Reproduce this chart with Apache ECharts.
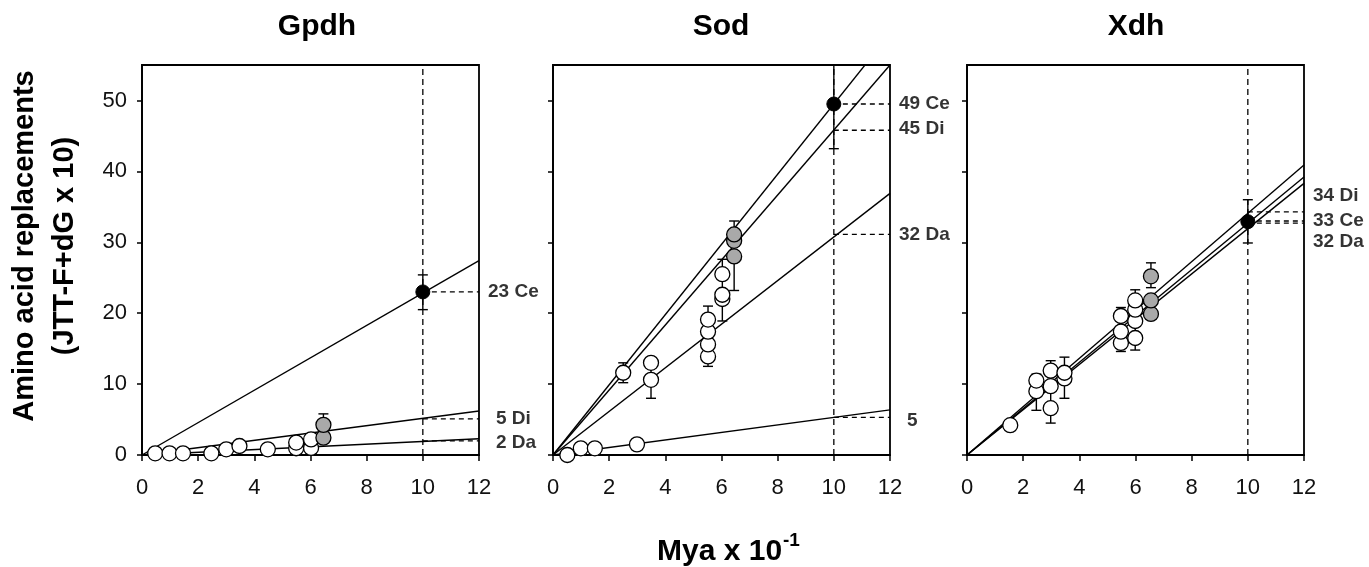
<!DOCTYPE html>
<html><head><meta charset="utf-8">
<script src="https://cdn.jsdelivr.net/npm/echarts@6/dist/echarts.min.js"></script>
<style>html,body{margin:0;padding:0;background:#fff}#c{width:1369px;height:567px}</style>
</head><body><div id="c"></div>
<script>
// ---------- data ----------
const panelTitles = ['Gpdh', 'Sod', 'Xdh'];
const xTicks = [0, 2, 4, 6, 8, 10, 12];
const yTicks = [0, 10, 20, 30, 40, 50];
const calibrationX = 10;

// regression lines through the origin: value reached at x = 12
const gpdhLineEnds = [27.4, 6.2, 2.3];
const sodLineEnds = [59.4, 55.0, 36.9, 6.36];
const xdhLineEnds = [40.9, 39.2, 38.3];

// dashed readouts at x = 10
const gpdhReadouts = [23.0, 5.1, 2.0];
const sodReadouts = [49.5, 45.8, 31.1, 5.3];
const xdhReadouts = [34.3, 33.0, 32.7];

// readout labels and the height where each is written
const gpdhLabels = ['23 Ce', '5 Di', '2 Da'];
const sodLabels = ['49 Ce', '45 Di', '32 Da', '5'];
const xdhLabels = ['34 Di', '33 Ce', '32 Da'];
const gpdhLabelY = [23.0, 5.1, 1.7];
const sodLabelY = [49.5, 46.0, 31.1, 4.8];
const xdhLabelY = [36.6, 33.0, 30.1];

// open circles [x, y]
const gpdhOpen = [[0.47,0.24],[0.98,0.24],[1.46,0.24],[2.47,0.24],[3.0,0.8],[3.47,1.27],[4.48,0.8],[5.49,0.95],[5.49,1.75],[6.02,1.0],[6.02,2.2]];
const sodOpen = [[0.51,0],[0.99,0.94],[1.49,0.94],[2.99,1.5],[2.5,11.6],[3.49,10.6],[3.49,13.0],[5.52,13.9],[5.52,15.6],[5.52,17.4],[5.52,19.1],[6.03,22.0],[6.03,22.6],[6.03,25.5]];
const xdhOpen = [[1.54,4.2],[2.47,9.0],[2.47,10.5],[2.98,6.6],[2.98,9.7],[2.98,11.9],[3.47,10.8],[3.47,11.6],[5.48,15.8],[5.48,17.4],[5.48,19.6],[5.99,16.5],[5.99,18.9],[5.99,20.5],[5.99,21.8]];

// grey circles [x, y]
const gpdhGray = [[6.46,2.45],[6.46,4.25]];
const sodGray = [[6.45,28.0],[6.45,30.2],[6.45,31.1]];
const xdhGray = [[6.55,19.9],[6.55,21.8],[6.55,25.2]];

// black calibration point [x, y]
const gpdhBlack = [[10,23.0]];
const sodBlack = [[10,49.5]];
const xdhBlack = [[10,32.9]];

// error bars [x, low, high]
const gpdhErr = [[6.46,2.7,5.8],[10,20.5,25.4]];
const sodErr = [[2.5,10.2,13.0],[3.49,8.0,13.2],[5.52,12.5,21.0],[6.03,18.9,27.6],[6.45,23.2,33.0],[10,43.2,56.0]];
const xdhErr = [[2.47,6.3,11.4],[2.98,4.5,13.3],[3.47,8.0,13.8],[5.48,14.6,20.8],[5.99,14.8,23.3],[6.55,23.6,27.1],[10,29.9,36.0]];

// ---------- chart ----------
const FONT = 'Liberation Sans, Arial, Helvetica, sans-serif';
const panels = [
  {ends: gpdhLineEnds, reads: gpdhReadouts, labels: gpdhLabels, labelY: gpdhLabelY, open: gpdhOpen, gray: gpdhGray, black: gpdhBlack, err: gpdhErr},
  {ends: sodLineEnds, reads: sodReadouts, labels: sodLabels, labelY: sodLabelY, open: sodOpen, gray: sodGray, black: sodBlack, err: sodErr},
  {ends: xdhLineEnds, reads: xdhReadouts, labels: xdhLabels, labelY: xdhLabelY, open: xdhOpen, gray: xdhGray, black: xdhBlack, err: xdhErr}
];
const gridLefts = [142, 553, 967];
const gridWidth = 337;
const titleCenters = [317, 721, 1136];

const grids = [], xAxes = [], yAxes = [], series = [];
const xMax = xTicks[xTicks.length - 1];
const yMax = 55;

function renderErr(params, api) {
  const x = api.value(0), lo = api.value(1), hi = api.value(2);
  const a = api.coord([x, lo]), b = api.coord([x, hi]);
  const w = 5;
  const st = {stroke: '#000', lineWidth: 1.4, fill: null};
  return {type: 'group', children: [
    {type: 'line', shape: {x1: a[0], y1: a[1], x2: b[0], y2: b[1]}, style: st},
    {type: 'line', shape: {x1: a[0]-w, y1: a[1], x2: a[0]+w, y2: a[1]}, style: st},
    {type: 'line', shape: {x1: b[0]-w, y1: b[1], x2: b[0]+w, y2: b[1]}, style: st}
  ]};
}

panels.forEach((p, i) => {
  grids.push({left: gridLefts[i], top: 65, width: gridWidth, height: 390, show: true, borderColor: '#000', borderWidth: 1.8, backgroundColor: 'transparent'});
  xAxes.push({gridIndex: i, type: 'value', min: 0, max: xMax, interval: 2,
    axisLine: {show: true, onZero: false, lineStyle: {color: '#000', width: 1.8}},
    axisTick: {show: true, inside: false, length: 6, lineStyle: {color: '#000', width: 1.5}},
    axisLabel: {fontSize: 22, color: '#111', margin: 22, fontFamily: FONT},
    splitLine: {show: false}});
  yAxes.push({gridIndex: i, type: 'value', min: 0, max: yMax,
    axisLine: {show: true, onZero: false, lineStyle: {color: '#000', width: 1.8}},
    axisTick: {show: true, inside: false, length: 5, customValues: yTicks, lineStyle: {color: '#000', width: 1.5}},
    axisLabel: {show: i === 0, customValues: yTicks, fontSize: 22, color: '#111', margin: 15, fontFamily: FONT},
    splitLine: {show: false}});
  const ax = {xAxisIndex: i, yAxisIndex: i};
  p.ends.forEach(e => series.push(Object.assign({type: 'line', data: [[0,0],[xMax,e]], symbol: 'none', silent: true, clip: true, z: 2,
    lineStyle: {color: '#000', width: 1.4}}, ax)));
  series.push(Object.assign({type: 'line', data: [[calibrationX,0],[calibrationX,yMax]], symbol: 'none', silent: true, z: 1,
    lineStyle: {color: '#000', width: 1.3, type: [6,4]}}, ax));
  p.reads.forEach(r => series.push(Object.assign({type: 'line', data: [[calibrationX,r],[xMax,r]], symbol: 'none', silent: true, z: 1,
    lineStyle: {color: '#000', width: 1.3, type: [5,4]}}, ax)));
  series.push(Object.assign({type: 'custom', renderItem: renderErr, data: p.err, encode: {x: 0, y: [1,2]}, clip: true, z: 3, silent: true}, ax));
  series.push(Object.assign({type: 'scatter', data: p.open, symbol: 'circle', symbolSize: 15, z: 5, silent: true,
    itemStyle: {color: '#fff', borderColor: '#000', borderWidth: 1.3, opacity: 1}}, ax));
  series.push(Object.assign({type: 'scatter', data: p.gray, symbol: 'circle', symbolSize: 15, z: 5, silent: true,
    itemStyle: {color: '#a9a9a9', borderColor: '#000', borderWidth: 1.3, opacity: 1}}, ax));
  series.push(Object.assign({type: 'scatter', data: p.black, symbol: 'circle', symbolSize: 14, z: 6, silent: true,
    itemStyle: {color: '#000', borderColor: '#000', borderWidth: 1, opacity: 1}}, ax));
  series.push(Object.assign({type: 'scatter', clip: false, symbolSize: 0, z: 6, silent: true,
    data: p.labelY.map((y, k) => ({value: [xMax, y], name: p.labels[k],
      label: {padding: [0, 0, 0, p.labels[k].split(' ')[0].length === 1 ? 8 : 0]}})),
    label: {show: true, position: 'right', distance: 9, formatter: q => q.name, fontSize: 19, fontWeight: 'bold', color: '#000', fontFamily: FONT}}, ax));
});

const graphics = [];
panelTitles.forEach((t, i) => graphics.push({type: 'text', x: titleCenters[i], y: 27,
  style: {text: t, font: 'bold 30px ' + FONT, fill: '#000', textAlign: 'center', textVerticalAlign: 'middle'}}));
graphics.push({type: 'text', x: 25, y: 246, rotation: Math.PI/2,
  style: {text: 'Amino acid replacements', font: 'bold 29px ' + FONT, fill: '#000', textAlign: 'center', textVerticalAlign: 'middle'}});
graphics.push({type: 'text', x: 65, y: 246, rotation: Math.PI/2,
  style: {text: '(JTT-F+dG x 10)', font: 'bold 29px ' + FONT, fill: '#000', textAlign: 'center', textVerticalAlign: 'middle'}});
graphics.push({type: 'text', x: 657, y: 552,
  style: {text: 'Mya x 10', font: 'bold 30px ' + FONT, fill: '#000', textAlign: 'left', textVerticalAlign: 'middle'}});
graphics.push({type: 'text', x: 783, y: 541,
  style: {text: '-1', font: 'bold 19px ' + FONT, fill: '#000', textAlign: 'left', textVerticalAlign: 'middle'}});

const chart = echarts.init(document.getElementById('c'), null, {renderer: 'canvas'});
chart.setOption({animation: false, backgroundColor: '#fff', grid: grids, xAxis: xAxes, yAxis: yAxes, series: series, graphic: graphics});
</script></body></html>
